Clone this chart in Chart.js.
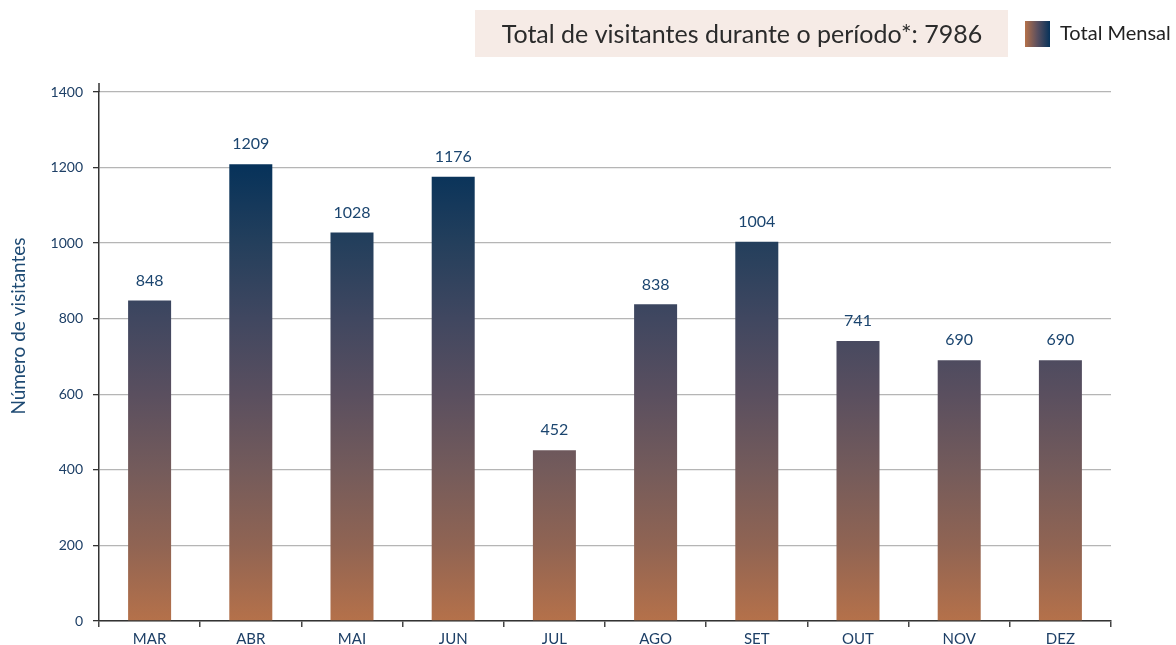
<!DOCTYPE html>
<html><head><meta charset="utf-8">
<script src="https://cdn.jsdelivr.net/npm/chart.js@4"></script>
<style>html,body{margin:0;padding:0;background:#fff}#wrap{width:1176px;height:645px;position:relative}</style>
</head><body><div id="wrap"><canvas id="c" width="1176" height="645"></canvas></div>
<script>
const categories = ['MAR','ABR','MAI','JUN','JUL','AGO','SET','OUT','NOV','DEZ'];
const visitors = [848,1209,1028,1176,452,838,1004,741,690,690];
const yTickValues = [0,200,400,600,800,1000,1200,1400];
const totalVisitors = 7986;
const titleText = 'Total de visitantes durante o período*: ' + totalVisitors;
const legendLabel = 'Total Mensal';
const yAxisTitle = 'Número de visitantes';

const FONT = 'Lato';
// gradient stops: [value on y axis, colour]
const gradientStops = [[0,'#b5714a'],[200,'#906453'],[400,'#745b5b'],[600,'#5a4f5f'],[800,'#404760'],[1000,'#243f5c'],[1209,'#06325a']];

let gradCache = null;
function barGradient(ctx){
  const chart = ctx.chart;
  const area = chart.chartArea;
  if(!area) return '#5a4f5f';
  const y = chart.scales.y;
  const key = area.top + ':' + area.bottom;
  if(gradCache && gradCache.key === key) return gradCache.g;
  const vmax = gradientStops[gradientStops.length-1][0];
  const y0 = y.getPixelForValue(0), y1 = y.getPixelForValue(vmax);
  const g = chart.ctx.createLinearGradient(0, y0, 0, y1);
  gradientStops.forEach(([v,c]) => g.addColorStop(v / vmax, c));
  gradCache = {key, g};
  return g;
}

const decor = {
  id: 'decor',
  afterDraw(chart){
    const ctx = chart.ctx;
    const area = chart.chartArea;
    ctx.save();
    // extend y axis line above top
    ctx.strokeStyle = '#333'; ctx.lineWidth = 1.5;
    ctx.beginPath(); ctx.moveTo(area.left, area.top - 9); ctx.lineTo(area.left, area.top); ctx.stroke();
    // y axis title
    ctx.save();
    ctx.translate(19, 326);
    ctx.rotate(-Math.PI / 2);
    ctx.fillStyle = '#1e4a73';
    ctx.font = '19px ' + FONT;
    ctx.textAlign = 'center'; ctx.textBaseline = 'middle';
    ctx.fillText(yAxisTitle, 0, 0);
    ctx.restore();
    // title box
    ctx.fillStyle = '#f6ebe6';
    ctx.fillRect(475, 10, 533, 47);
    ctx.fillStyle = '#2b2b2b';
    ctx.font = '25px ' + FONT;
    ctx.textAlign = 'center'; ctx.textBaseline = 'middle';
    ctx.fillText(titleText, 742, 35);
    // legend
    const lg = ctx.createLinearGradient(1025, 0, 1050, 0);
    lg.addColorStop(0, '#b5714a'); lg.addColorStop(0.5, '#5a4f5f'); lg.addColorStop(1, '#06325a');
    ctx.fillStyle = lg;
    ctx.fillRect(1025, 21, 25, 26);
    ctx.fillStyle = '#222';
    ctx.font = '20px ' + FONT;
    ctx.textAlign = 'left';
    ctx.fillText(legendLabel, 1060, 34);
    ctx.restore();
  },
  afterDatasetsDraw(chart){
    const ctx = chart.ctx;
    const meta = chart.getDatasetMeta(0);
    ctx.save();
    ctx.font = '16px ' + FONT;
    ctx.fillStyle = '#1b456f';
    ctx.textAlign = 'center'; ctx.textBaseline = 'middle';
    meta.data.forEach((bar, i) => ctx.fillText(String(visitors[i]), bar.x, bar.y - 20));
    ctx.restore();
  }
};

new Chart(document.getElementById('c'), {
  type: 'bar',
  data: {
    labels: categories,
    datasets: [{ label: legendLabel, data: visitors, backgroundColor: barGradient, borderWidth: 0, barPercentage: 0.85, categoryPercentage: 0.5 }]
  },
  options: {
    responsive: false, animation: false, devicePixelRatio: 1,
    layout: { padding: { top: 92, right: 65, left: 0, bottom: 0 } },
    plugins: { legend: { display: false }, tooltip: { enabled: false } },
    scales: {
      x: {
        grid: { display: true, drawOnChartArea: false, drawTicks: true, tickLength: 6, color: '#444', lineWidth: 1.5, offset: true },
        border: { color: '#333', width: 1.5 },
        ticks: { color: '#1d3f66', font: { family: FONT, size: 15 }, padding: 3 },
        afterFit: s => { s.height = 24; }
      },
      y: {
        min: 0, max: 1400,
        afterBuildTicks: s => { s.ticks = yTickValues.map(v => ({ value: v })); },
        ticks: { color: '#1d3f66', font: { family: FONT, size: 14 }, padding: 10, callback: v => String(v) },
        grid: { color: '#b5b5b5', lineWidth: 1.3, tickColor: '#333', tickLength: 6 },
        border: { color: '#333', width: 1.5 },
        title: { display: false },
        afterFit: s => { s.width = 99; }
      }
    }
  },
  plugins: [decor]
});
</script></body></html>
